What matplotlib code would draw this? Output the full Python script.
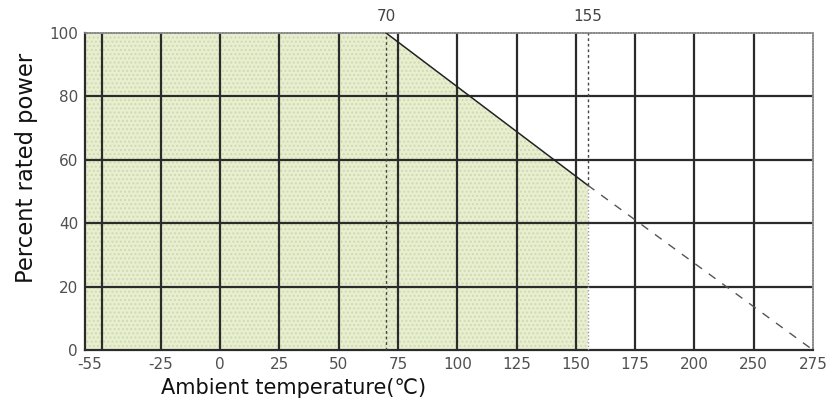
import numpy as np
import matplotlib
matplotlib.use("Agg")
import matplotlib.pyplot as plt

# grid temperatures as they are labelled on the original chart
grid_temps = [-50, -25, 0, 25, 50, 75, 100, 125, 150, 175, 200, 250, 275]
tick_temps = [-55, -25, 0, 25, 50, 75, 100, 125, 150, 175, 200, 250, 275]
tick_labels = ["-55", "-25", "0", "25", "50", "75", "100", "125", "150",
               "175", "200", "250", "275"]
power_ticks = [0, 20, 40, 60, 80, 100]

# derating curve
knee_temp = 70
max_temp = 155
zero_temp = 275
power_at_max = 52
x_min = -57

grid_idx = np.arange(len(grid_temps), dtype=float)


def fwd(t):
    t = np.asarray(t, dtype=float)
    out = np.interp(t, grid_temps, grid_idx)
    out = np.where(t < grid_temps[0], (t - grid_temps[0]) / 25.0, out)
    out = np.where(t > grid_temps[-1], grid_idx[-1] + (t - grid_temps[-1]) / 25.0, out)
    return out


def inv(p):
    p = np.asarray(p, dtype=float)
    out = np.interp(p, grid_idx, grid_temps)
    out = np.where(p < 0, grid_temps[0] + p * 25.0, out)
    out = np.where(p > grid_idx[-1], grid_temps[-1] + (p - grid_idx[-1]) * 25.0, out)
    return out


fig = plt.figure(figsize=(8.27, 4.03), dpi=100)
ax = fig.add_axes([0.1028, 0.1315, 0.8802, 0.7865])
ax.set_xscale("function", functions=(fwd, inv))
ax.set_xlim(x_min, zero_temp)
ax.set_ylim(0, 100)

# shaded operating area
ax.fill_between([x_min, knee_temp, max_temp], [100, 100, power_at_max], 0,
                facecolor="#e8efd0", edgecolor="#cfdab0", hatch="....",
                linewidth=0, zorder=1)
ax.plot([max_temp, max_temp], [0, power_at_max], color="#9a9a9a",
        linestyle=(0, (1, 1.5)), linewidth=1, zorder=3)

# grid
for t in grid_temps[:-1]:
    ax.axvline(t, color="#2b2b2b", linewidth=1.6, zorder=2)
for p in power_ticks[1:-1]:
    ax.axhline(p, color="#2b2b2b", linewidth=1.6, zorder=2)

# derating line
ax.plot([knee_temp, max_temp], [100, power_at_max], color="#222222",
        linewidth=1.1, zorder=4)
ax.plot([max_temp, zero_temp], [power_at_max, 0], color="#555555",
        linewidth=1.0, linestyle=(0, (6, 6)), zorder=4)
ax.plot([knee_temp, knee_temp], [0, 100], color="#444444",
        linestyle=(0, (2, 2)), linewidth=1.0, zorder=4)
ax.plot([max_temp, max_temp], [power_at_max, 100], color="#444444",
        linestyle=(0, (2, 2)), linewidth=1.0, zorder=4)

ax.text(knee_temp, 103, str(knee_temp), ha="center", va="bottom",
        fontsize=11, color="#444444")
ax.text(max_temp, 103, str(max_temp), ha="center", va="bottom",
        fontsize=11, color="#444444")

for side in ["top", "right"]:
    ax.spines[side].set_color("#8a8a8a")
    ax.spines[side].set_linewidth(1.2)
    ax.spines[side].set_linestyle((0, (1, 0.6)))
for side in ["left", "bottom"]:
    ax.spines[side].set_color("#2b2b2b")
    ax.spines[side].set_linewidth(1.6)

ax.set_xticks(tick_temps)
ax.set_xticklabels(tick_labels)
ax.set_yticks(power_ticks)
ax.tick_params(length=0, labelsize=11, labelcolor="#505050", pad=5)
ax.set_xlabel("Ambient temperature(℃)", fontsize=15, color="#111111",
              labelpad=4, x=0.287)
ax.set_ylabel("Percent rated power", fontsize=16.3, color="#111111",
              labelpad=8, y=0.574)

fig.savefig("out.png", dpi=100)
